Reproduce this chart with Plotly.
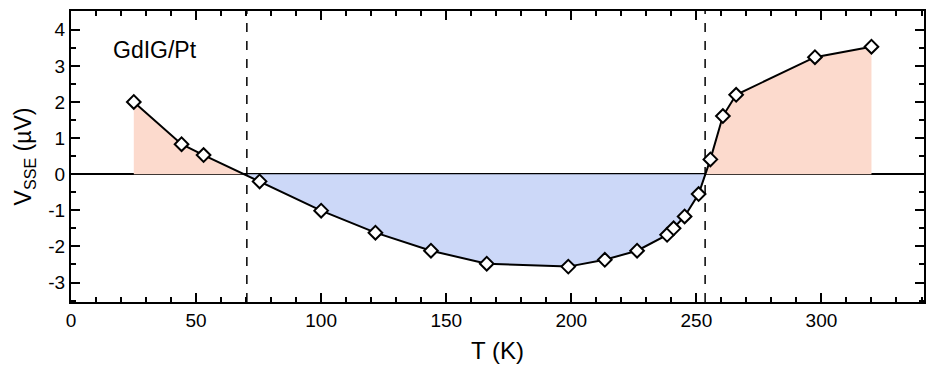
import plotly.graph_objects as go

# Data
T = [25.1, 44.2, 53.0, 75.4, 100.0, 121.7, 143.9, 166.2, 198.8, 213.4, 226.3,
     238.3, 240.9, 245.3, 250.9, 255.6, 260.6, 265.9, 297.4, 320.0]
V = [2.00, 0.83, 0.53, -0.20, -1.01, -1.62, -2.12, -2.48, -2.56, -2.37, -2.12,
     -1.68, -1.50, -1.17, -0.55, 0.41, 1.61, 2.20, 3.24, 3.53]
T_comp = [70.3, 253.5]  # compensation temperatures (dashed lines)
x_ticks = [0, 50, 100, 150, 200, 250, 300]
y_ticks = [-3, -2, -1, 0, 1, 2, 3, 4]
y_ticktext = ["-3", "-2", "-1", "0", "1", "2", "3", "4"]

POS = "rgb(252,218,205)"
NEG = "rgb(204,216,248)"

# split into sign segments with interpolated zero crossings
segments = []
cur_x, cur_y = [T[0]], [V[0]]
for i in range(1, len(T)):
    x0, y0, x1, y1 = T[i-1], V[i-1], T[i], V[i]
    if (y0 > 0) != (y1 > 0):
        xc = x0 + (x1 - x0) * (0 - y0) / (y1 - y0)
        cur_x.append(xc); cur_y.append(0)
        segments.append((cur_x, cur_y, y0 > 0))
        cur_x, cur_y = [xc], [0]
    cur_x.append(x1); cur_y.append(y1)
segments.append((cur_x, cur_y, cur_y[-1] > 0))

fig = go.Figure()
for sx, sy, pos in segments:
    fig.add_trace(go.Scatter(x=sx, y=sy, mode="lines", line=dict(width=0),
                             fill="tozeroy", fillcolor=POS if pos else NEG,
                             hoverinfo="skip", showlegend=False))

fig.add_trace(go.Scatter(x=T, y=V, mode="lines+markers",
                         line=dict(color="black", width=2),
                         marker=dict(symbol="diamond", size=10.5, color="white",
                                     line=dict(color="black", width=2)),
                         showlegend=False))

for tc in T_comp:
    fig.add_shape(type="line", xref="x", yref="paper", x0=tc, x1=tc, y0=0, y1=1,
                  line=dict(color="black", width=1.5, dash="dash"))

fig.add_annotation(text="GdIG/Pt", xref="paper", yref="paper", x=0.098, y=0.866,
                   xanchor="center", yanchor="middle", showarrow=False,
                   font=dict(size=23, color="black", family="Liberation Sans"))

axis_common = dict(showline=True, linecolor="black", linewidth=2, mirror="ticks",
                   ticks="inside", tickcolor="black", tickwidth=2, ticklen=9,
                   showgrid=False, tickfont=dict(size=19, color="black", family="Liberation Sans"))

fig.update_xaxes(range=[0, 341], tickvals=x_ticks,
                 minor=dict(dtick=10, tick0=0, ticks="inside", ticklen=5, tickwidth=2, tickcolor="black"),
                 title=dict(text="T (K)", font=dict(size=24, color="black", family="Liberation Sans"), standoff=12),
                 zeroline=False, **axis_common)
fig.update_yaxes(range=[-3.54, 4.52], tickvals=y_ticks, ticktext=y_ticktext,
                 minor=dict(dtick=0.5, tick0=0, ticks="inside", ticklen=5, tickwidth=2, tickcolor="black"),
                 title=dict(text="V<sub>SSE</sub> (µV)", font=dict(size=23, color="black", family="Liberation Sans"), standoff=10),
                 zeroline=True, zerolinecolor="black", zerolinewidth=2, **axis_common)

fig.update_layout(width=927, height=367, margin=dict(l=71, r=1, t=11, b=65),
                  plot_bgcolor="white", paper_bgcolor="white",
                  font=dict(family="Liberation Sans", color="black"))

fig.write_html("out.html", config={"displayModeBar": False},
               post_script="document.body.style.margin='0';document.body.style.overflow='hidden';")
